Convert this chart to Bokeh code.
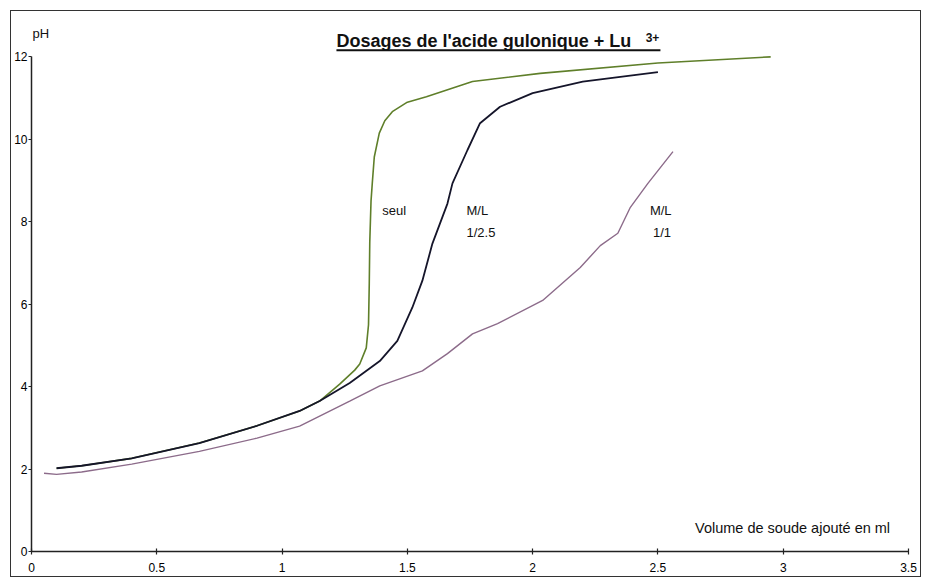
from bokeh.plotting import figure
from bokeh.models import Range1d, FixedTicker, Label
from bokeh.embed import file_html
from bokeh.resources import INLINE

# data
seul_x = [0.1, 0.2, 0.4, 0.67, 0.9, 1.07, 1.15, 1.23, 1.29, 1.31, 1.336, 1.345, 1.348, 1.35, 1.355,
          1.36, 1.368, 1.388, 1.41, 1.44, 1.5, 1.576, 1.76, 2.03, 2.5, 2.95]
seul_y = [2.02, 2.08, 2.26, 2.63, 3.05, 3.41, 3.65, 4.06, 4.4, 4.55, 4.94, 5.5, 6.5, 7.5, 8.5,
          8.93, 9.57, 10.15, 10.45, 10.67, 10.9, 11.03, 11.4, 11.6, 11.85, 12.0]

ml25_x = [0.1, 0.2, 0.4, 0.67, 0.9, 1.07, 1.15, 1.27, 1.39, 1.46, 1.52, 1.56, 1.6, 1.66, 1.68,
          1.74, 1.79, 1.87, 2.0, 2.2, 2.5]
ml25_y = [2.02, 2.08, 2.26, 2.63, 3.05, 3.41, 3.65, 4.09, 4.62, 5.11, 5.92, 6.57, 7.47, 8.44, 8.93,
          9.74, 10.39, 10.79, 11.12, 11.4, 11.63]

ml11_x = [0.05, 0.1, 0.2, 0.4, 0.67, 0.9, 1.07, 1.27, 1.39, 1.56, 1.66, 1.76, 1.86, 2.04, 2.19,
          2.27, 2.34, 2.39, 2.46, 2.56]
ml11_y = [1.9, 1.87, 1.93, 2.12, 2.43, 2.75, 3.04, 3.65, 4.02, 4.38, 4.8, 5.28, 5.53, 6.09, 6.89,
          7.42, 7.72, 8.35, 8.93, 9.7]

x_ticks = [0, 0.5, 1, 1.5, 2, 2.5, 3, 3.5]
x_tick_labels = ["0", "0.5", "1", "1.5", "2", "2.5", "3", "3.5"]
y_ticks = [0, 2, 4, 6, 8, 10, 12]

title_text = "Dosages de l'acide gulonique + Lu"
title_sup = "3+"
x_label = "Volume de soude ajouté en ml"
y_label = "pH"

W, H = 911, 567
FONT = "Liberation Sans"

p = figure(width=W, height=H, output_backend="svg", toolbar_location=None,
           x_range=Range1d(0, 3.5), y_range=Range1d(0, 13.1),
           min_border_left=20, min_border_right=14, min_border_top=0, min_border_bottom=27)
p.styles = {"margin-left": "10px", "margin-top": "10px", "border": "1.5px solid #333333"}
p.outline_line_color = None
p.grid.visible = False
p.background_fill_color = "white"
p.border_fill_color = "white"

p.xaxis.ticker = FixedTicker(ticks=x_ticks)
p.xaxis.major_label_overrides = {t: l for t, l in zip(x_ticks, x_tick_labels)}
p.yaxis.ticker = FixedTicker(ticks=y_ticks)
p.yaxis.bounds = (0, 12)
for ax in (p.xaxis, p.yaxis):
    ax.axis_line_color = "#222222"
    ax.axis_line_width = 1.5
    ax.major_tick_line_color = "#222222"
    ax.major_tick_line_width = 1.2
    ax.minor_tick_line_color = None
    ax.major_label_text_font = FONT
    ax.major_label_text_font_size = "12px"
    ax.major_label_text_color = "#000000"
p.xaxis.major_tick_in = 3
p.xaxis.major_tick_out = 3
p.yaxis.major_tick_in = 0
p.yaxis.major_tick_out = 3
p.xaxis.major_label_standoff = 8
p.yaxis.major_label_standoff = 1

p.line(seul_x, seul_y, line_color="#5f7f2a", line_width=1.6)
p.line(ml25_x, ml25_y, line_color="#15152a", line_width=1.8)
p.line(ml11_x, ml11_y, line_color="#8c6b8a", line_width=1.4)

def lab(x, y, t, size="13px", baseline="middle", style="normal"):
    p.add_layout(Label(x=x, y=y, text=t, text_font=FONT, text_font_size=size,
                       text_font_style=style,
                       text_color="#111111", text_baseline=baseline, text_align="left"))

lab(1.40, 8.28, "seul")
lab(1.736, 8.28, "M/L")
lab(1.736, 7.74, "1/2.5")
lab(2.468, 8.28, "M/L")
lab(2.48, 7.74, "1/1")
lab(2.648, 0.58, x_label, size="14.5px")
lab(0.004, 12.57, y_label)
lab(1.217, 12.38, title_text, size="18px", baseline="alphabetic", style="bold")
lab(2.451, 12.47, title_sup, size="12px", baseline="alphabetic", style="bold")

# title underline
p.line([1.217, 2.51], [12.16, 12.16], line_color="#111111", line_width=2)

open("out.html", "w").write(file_html(p, INLINE))
